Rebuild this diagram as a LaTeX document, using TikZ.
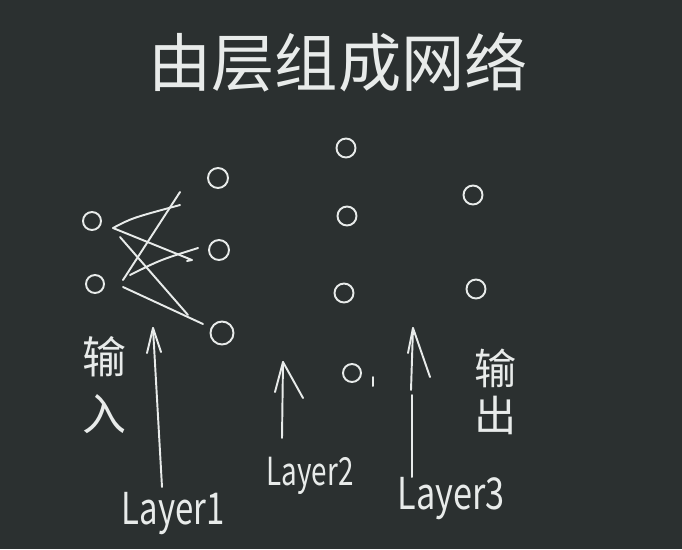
\documentclass[tikz,border=0pt]{standalone}
\usepackage{fontspec}
\setmainfont{Noto Sans CJK SC}
\usetikzlibrary{calc}

\definecolor{board}{RGB}{43,48,48}
\definecolor{chalk}{RGB}{232,235,234}

\begin{document}
\begin{tikzpicture}[x=0.02cm, y=-0.02cm,
    every node/.style={text=chalk},
    ink/.style={draw=chalk, line width=1.1pt, line cap=round, line join=round},
    neuron/.style={circle, draw=chalk, line width=1.1pt, inner sep=0pt, minimum size=0.36cm},
    bigneuron/.style={neuron, minimum size=0.46cm}]
  \fill[board] (0,0) rectangle (682,549);
  \useasboundingbox (0,0) rectangle (682,549);

  % title
  \node (title) at (338,62) {\fontsize{36}{40}\selectfont 由层组成网络};

  % neurons
  \node[neuron] (in1) at (92,221) {};
  \node[neuron] (in2) at (95,284) {};
  \node[neuron, minimum size=0.4cm] (h1a) at (218,178) {};
  \node[neuron, minimum size=0.4cm] (h1b) at (219,250) {};
  \node[bigneuron] (h1c) at (222,333) {};
  \node[neuron, minimum size=0.38cm] (h2a) at (346,148) {};
  \node[neuron, minimum size=0.38cm] (h2b) at (347,216) {};
  \node[neuron, minimum size=0.38cm] (h2c) at (344,293) {};
  \node[neuron] (h2d) at (352,373) {};
  \node[neuron, minimum size=0.38cm] (outa) at (473,195) {};
  \node[neuron, minimum size=0.38cm] (outb) at (476,289) {};
  \draw[ink] (373,377) -- (373,386);

  % weights between input and layer 1
  \coordinate (w1s) at (113,228);
  \coordinate (w1e) at (180,205);
  \coordinate (w2e) at (192,260);
  \coordinate (w3s) at (120,237);
  \coordinate (w3e) at (188,315);
  \coordinate (w4s) at (123,280);
  \coordinate (w4e) at (180,192);
  \coordinate (w5s) at (130,275);
  \coordinate (w5e) at (198,248);
  \coordinate (w6s) at (123,287);
  \coordinate (w6e) at (203,324);
  \draw[ink] (w1s) .. controls (132,218) .. (w1e);
  \draw[ink] (w1s) -- (w2e) -- (187,261);
  \draw[ink] (w3s) -- (w3e);
  \draw[ink] (w4s) -- (w4e);
  \draw[ink] (w5s) .. controls (160,260) .. (w5e);
  \draw[ink] (w6s) -- (w6e);

  % arrows
  \coordinate (a1top) at (153,328);
  \coordinate (a1bot) at (162,487);
  \draw[ink] (a1bot) -- (a1top);
  \draw[ink] (147,353) -- (a1top) -- (161,352);
  \coordinate (a2top) at (283,362);
  \coordinate (a2bot) at (282,438);
  \draw[ink] (a2bot) -- (a2top);
  \draw[ink] (275,392) -- (a2top) -- (303,398);
  \coordinate (a3top) at (413,328);
  \coordinate (a3bot) at (412,477);
  \draw[ink] (a3bot) -- (412,395);
  \draw[ink] (411,390) -- (a3top);
  \draw[ink] (408,353) -- (a3top) -- (430,377);

  % labels
  \node[align=center, font=\fontsize{25}{32}\selectfont] (intxt) at (104,385) {输\\入};
  \node[align=center, font=\fontsize{24}{27}\selectfont] (outtxt) at (496,392) {输\\出};
  \node[font=\fontsize{25}{28}\selectfont] (lay1) at (173,514) {\scalebox{0.75}[1]{Layer1}};
  \node[font=\fontsize{22}{25}\selectfont] (lay2) at (310,476) {\scalebox{0.72}[1]{Layer2}};
  \node[font=\fontsize{25}{28}\selectfont] (lay3) at (451,499) {\scalebox{0.78}[1]{Layer3}};
\end{tikzpicture}
\end{document}
